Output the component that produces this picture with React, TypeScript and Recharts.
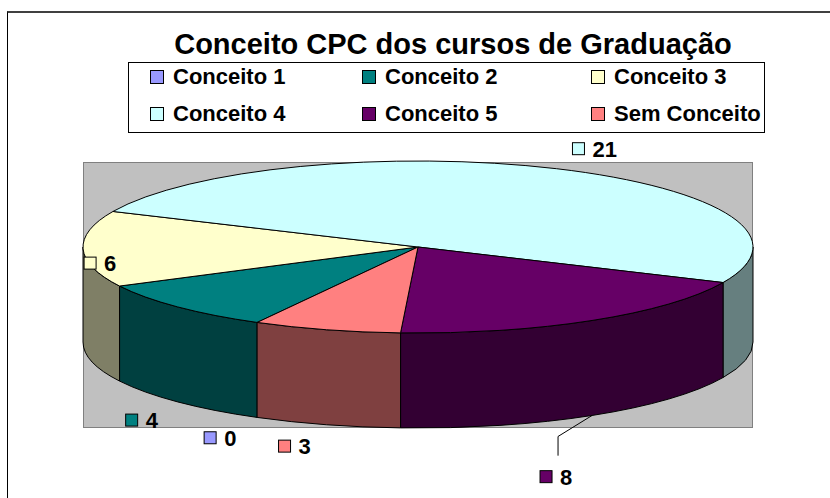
import React from 'react';
import { PieChart, Pie, Legend } from 'recharts';

const categories = ['Conceito 1', 'Conceito 2', 'Conceito 3', 'Conceito 4', 'Conceito 5', 'Sem Conceito'];
const counts = [0, 4, 6, 21, 8, 3];
const colors = ['#9999FF', '#008080', '#FFFFCC', '#CCFFFF', '#660066', '#FF8080'];

const data = categories.map((name, i) => ({ name, value: counts[i] }));

// where Excel dropped each value label, relative to the slice's rim point
const labelNudge = [
  { dx: -53, dy: 32 },
  { dx: -52, dy: 47 },
  { dx: 1, dy: 12 },
  { dx: 16, dy: -20 },
  { dx: -52, dy: 75, leader: true },
  { dx: -48, dy: 25 },
];

const FONT = '"Liberation Sans", Arial, sans-serif';
const TILT = 86 / 335; // vertical squash of the 3d disc
const DEPTH = 95;

const rad = (a: number) => (a * Math.PI) / 180;

const darken = (hex: string) => {
  const n = parseInt(hex.slice(1), 16);
  return `rgb(${(n >> 16) >> 1},${((n >> 8) & 255) >> 1},${(n & 255) >> 1})`;
};

const geom = (p: any) => {
  const rx = p.outerRadius;
  const ry = rx * TILT;
  const at = (a: number, dy = 0) => [p.cx + rx * Math.cos(rad(a)), p.cy - ry * Math.sin(rad(a)) + dy];
  return { rx, ry, at };
};

const renderWall = (p: any) => {
  const { rx, ry, at } = geom(p);
  const lo = Math.min(p.startAngle, p.endAngle);
  const hi = Math.max(p.startAngle, p.endAngle);
  if (hi - lo <= 0) return <g key={`w${p.index}`} />;
  const parts: React.ReactNode[] = [];
  [-1, 0, 1].forEach((k) => {
    const b1 = Math.max(lo, 180 + 360 * k);
    const b2 = Math.min(hi, 360 + 360 * k);
    if (b2 <= b1) return;
    const [x1, y1] = at(b1);
    const [x2, y2] = at(b2);
    const d =
      `M${x1},${y1}A${rx},${ry} 0 0 0 ${x2},${y2}` +
      `L${x2},${y2 + DEPTH}A${rx},${ry} 0 0 1 ${x1},${y1 + DEPTH}Z`;
    parts.push(<path key={k} d={d} fill={darken(colors[p.index])} stroke="#000" strokeWidth={1} />);
  });
  return <g key={`w${p.index}`}>{parts}</g>;
};

const renderTop = (p: any) => {
  const { rx, ry, at } = geom(p);
  if (Math.abs(p.startAngle - p.endAngle) <= 0) return <g key={`t${p.index}`} />;
  const [x1, y1] = at(p.startAngle);
  const [x2, y2] = at(p.endAngle);
  const large = Math.abs(p.startAngle - p.endAngle) > 180 ? 1 : 0;
  const sweep = p.startAngle > p.endAngle ? 1 : 0;
  const d = `M${p.cx},${p.cy}L${x1},${y1}A${rx},${ry} 0 ${large} ${sweep} ${x2},${y2}Z`;
  return <path key={`t${p.index}`} d={d} fill={colors[p.index]} stroke="#000" strokeWidth={1} />;
};

const renderValue = (p: any) => {
  const { at } = geom(p);
  const mid = p.midAngle;
  const s = Math.sin(rad(mid));
  const [bx, by] = at(mid, DEPTH * Math.max(0, -s));
  const nudge = labelNudge[p.index];
  const x = bx + nudge.dx;
  const y = by + nudge.dy;
  let leader = null;
  if (nudge.leader) {
    const [sx, sy] = at(mid, DEPTH);
    leader = (
      <polyline
        points={`${sx},${sy} ${x + 18},${sy + 21} ${x + 18},${y - 21}`}
        fill="none"
        stroke="#000"
        strokeWidth={1}
      />
    );
  }
  return (
    <g key={`v${p.index}`}>
      {leader}
      <rect x={x} y={y - 6} width={12} height={12} fill={colors[p.index]} stroke="#000" strokeWidth={1} />
      <text x={x + 20} y={y} dy="0.36em" fontFamily={FONT} fontWeight="bold" fontSize={22} fill="#000">
        {p.value}
      </text>
    </g>
  );
};

const LegendBox = () => (
  <div
    style={{
      position: 'relative',
      width: 637,
      height: 71,
      boxSizing: 'border-box',
      border: '1px solid #000',
      background: '#fff',
      fontFamily: FONT,
      fontWeight: 'bold',
      fontSize: 22,
    }}
  >
    {categories.map((name, i) => {
      const col = i % 3;
      const row = Math.floor(i / 3);
      return (
        <div
          key={name}
          style={{
            position: 'absolute',
            left: [21, 233, 462][col],
            top: row === 0 ? 1 : 38,
            height: 26,
            display: 'flex',
            alignItems: 'center',
            whiteSpace: 'nowrap',
          }}
        >
          <span
            style={{
              display: 'inline-block',
              width: 12,
              height: 12,
              background: colors[i],
              border: '1px solid #000',
              marginRight: 9,
            }}
          />
          {name}
        </div>
      );
    })}
  </div>
);

export default function App() {
  const pieProps = {
    data,
    dataKey: 'value',
    nameKey: 'name',
    cx: 418,
    cy: 247,
    outerRadius: 335,
    startAngle: 241.3,
    endAngle: -118.7,
    fill: 'none',
    stroke: 'none',
    labelLine: false,
    isAnimationActive: false,
  };

  return (
    <div
      style={{
        position: 'absolute',
        left: 0,
        top: 0,
        width: 830,
        height: 498,
        overflow: 'hidden',
        background: '#fff',
      }}
    >
      <div
        style={{
          position: 'absolute',
          left: 7,
          top: 11,
          width: 900,
          height: 600,
          borderTop: '2px solid #404040',
          borderLeft: '1px solid #000',
        }}
      />
      <div
        style={{
          position: 'absolute',
          left: 83,
          top: 162,
          width: 670,
          height: 266,
          boxSizing: 'border-box',
          background: '#C0C0C0',
          border: '1px solid #808080',
        }}
      />
      <div
        style={{
          position: 'absolute',
          left: 153,
          top: 29,
          width: 600,
          textAlign: 'center',
          fontFamily: FONT,
          fontWeight: 'bold',
          fontSize: 29,
          lineHeight: '30px',
          color: '#000',
        }}
      >
        Conceito CPC dos cursos de Graduação
      </div>
      <div style={{ position: 'absolute', left: 0, top: 0 }}>
        <PieChart width={830} height={498} margin={{ top: 0, right: 0, bottom: 0, left: 0 }}>
          <Pie {...pieProps} legendType="none" label={renderWall} />
          <Pie {...pieProps} legendType="none" label={renderTop} />
          <Pie {...pieProps} label={renderValue} />
          <Legend
            layout="horizontal"
            verticalAlign="middle"
            wrapperStyle={{ top: 62, left: 128, width: 637 }}
            content={() => <LegendBox />}
          />
        </PieChart>
      </div>
    </div>
  );
}
